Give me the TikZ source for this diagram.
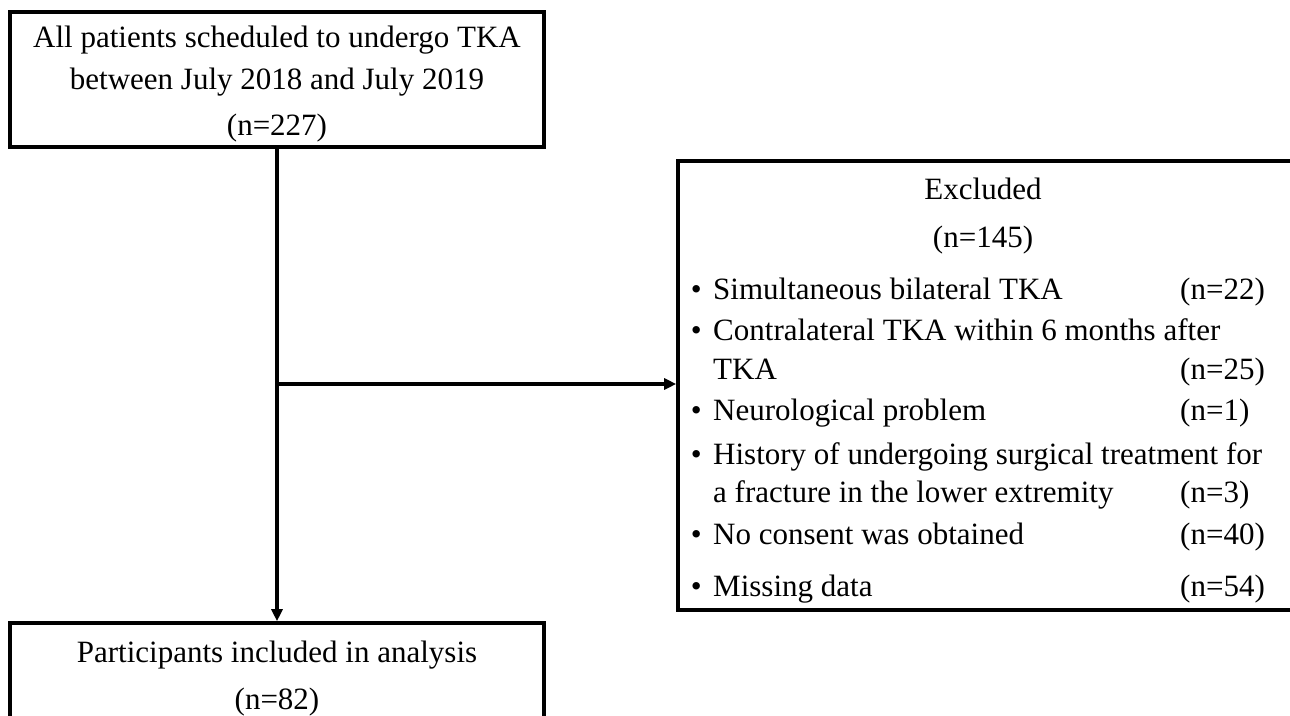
\documentclass[tikz,border=0pt]{standalone}
\usepackage{fontspec}
\setmainfont{Liberation Serif}
\usetikzlibrary{arrows.meta}
\begin{document}
\begin{tikzpicture}[x=1pt,y=-1pt,
  box/.style={draw=black,line width=3.6pt,fill=white,inner sep=0pt},
  txt/.style={inner sep=0pt,font=\fontsize{31}{42}\selectfont},
  conn/.style={line width=3.6pt,-{Triangle[length=12pt,width=11pt]}}]
\useasboundingbox (0,0) rectangle (1290,715);
\clip (0,0) rectangle (1290,715);
\fill[white] (0,0) rectangle (1290,715);
% boxes
\node[box,minimum width=534pt,minimum height=135pt] (top) at (277,79.5) {};
\node[box,minimum width=534pt,minimum height=117pt] (bot) at (277,681.5) {};
\node[box,minimum width=614pt,minimum height=449pt] (excl) at (985,385.5) {};
% top box text
\node[txt,anchor=base] (t1) at (277,47) {All patients scheduled to undergo TKA};
\node[txt,anchor=base] (t2) at (277,89) {between July 2018 and July 2019};
\node[txt,anchor=base] (t3) at (277,135) {(n=227)};
% bottom box text
\node[txt,anchor=base] (b1) at (277,662) {Participants included in analysis};
\node[txt,anchor=base] (b2) at (277,709) {(n=82)};
% excluded box text
\node[txt,anchor=base] (e1) at (983,199) {Excluded};
\node[txt,anchor=base] (e2) at (983,247) {(n=145)};
\foreach \y/\nm in {299/a,340/b,420/c,464/d,544/e,596/f}{
  \node[txt,anchor=base east] (bul\nm) at (702,\y) {\textbullet};
}
\node[txt,anchor=base west] (i1) at (713,299) {Simultaneous bilateral TKA};
\node[txt,anchor=base west] (i2) at (713,340) {Contralateral TKA within 6 months after};
\node[txt,anchor=base west] (i2b) at (713,379) {TKA};
\node[txt,anchor=base west] (i3) at (713,420) {Neurological problem};
\node[txt,anchor=base west] (i4) at (713,464) {History of undergoing surgical treatment for};
\node[txt,anchor=base west] (i4b) at (713,502) {a fracture in the lower\ extremity};
\node[txt,anchor=base west] (i5) at (713,544) {No consent was obtained};
\node[txt,anchor=base west] (i6) at (713,596) {Missing data};
\node[txt,anchor=base west] (n1) at (1180,299) {(n=22)};
\node[txt,anchor=base west] (n2) at (1180,379) {(n=25)};
\node[txt,anchor=base west] (n3) at (1180,420) {(n=1)};
\node[txt,anchor=base west] (n4) at (1180,502) {(n=3)};
\node[txt,anchor=base west] (n5) at (1180,544) {(n=40)};
\node[txt,anchor=base west] (n6) at (1180,596) {(n=54)};
% connectors
\coordinate (junc) at (277,384);
\draw[conn] (top.south) -- (bot.north);
\draw[conn] (junc) -- (junc -| excl.west);
\end{tikzpicture}
\end{document}
